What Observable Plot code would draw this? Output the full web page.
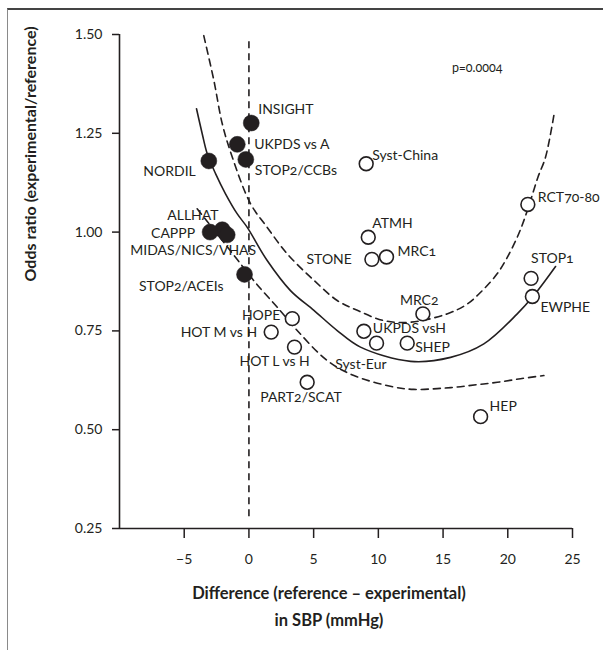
<!DOCTYPE html>
<html>
<head>
<meta charset="utf-8">
<script src="https://cdn.jsdelivr.net/npm/d3@7"></script>
<script src="https://cdn.jsdelivr.net/npm/@observablehq/plot@0.6"></script>
<style>
  html, body { margin: 0; padding: 0; background: #fff; overflow: hidden; width: 603px; height: 650px; }
  #frame { position: absolute; left: 7px; top: 8px; width: 620px; height: 660px;
           border-left: 1.5px solid #8a8a8a; border-top: 2.5px solid #444; box-sizing: border-box; }
  #chart { position: absolute; left: 0; top: 0; }
  #chart svg { font-family: Lato, "Open Sans", sans-serif; font-variant-numeric: oldstyle-nums; }
</style>
</head>
<body>
<div id="frame"></div>
<div id="chart"></div>
<script>
// ---------- data ----------
const filledNames = ["INSIGHT", "UKPDS vs A", "STOP2/CCBs", "NORDIL", "ALLHAT", "CAPPP", "MIDAS/NICS/VHAS", "STOP2/ACEIs"];
const filledDiff  = [0.18, -0.9, -0.24, -3.1, -2.06, -3.0, -1.68, -0.34];
const filledOR    = [1.276, 1.222, 1.184, 1.18, 1.006, 1.0, 0.993, 0.893];

const openNames = ["Syst-China", "RCT70-80", "ATMH", "STONE", "MRC1", "STOP1", "EWPHE", "MRC2",
                   "UKPDS vsH", "Syst-Eur", "SHEP", "HOPE", "HOT M vs H", "HOT L vs H", "PART2/SCAT", "HEP"];
const openDiff = [9.06, 21.55, 9.22, 9.5, 10.63, 21.8, 21.9, 13.44, 8.88, 9.86, 12.23, 3.35, 1.72, 3.52, 4.5, 17.9];
const openOR   = [1.173, 1.07, 0.987, 0.931, 0.937, 0.883, 0.837, 0.793, 0.749, 0.719, 0.719, 0.781, 0.747, 0.709, 0.62, 0.533];

// fitted curve (solid) and its confidence bands (dashed)
const fitX = [-4.05, -3.61, -3.22, -2.58, -1.81, -0.9, -0.13, 1.41, 3.21, 5.02, 6.82, 8.62, 12.49, 15.58, 18.15, 20.73, 22.02, 23.69];
const fitY = [1.312, 1.249, 1.198, 1.148, 1.097, 1.046, 1.012, 0.928, 0.852, 0.802, 0.751, 0.709, 0.673, 0.683, 0.717, 0.793, 0.840, 0.913];

const upperX = [-3.49, -2.71, -2.06, -1.29, 0.12, 1.41, 2.96, 5.02, 6.82, 8.37, 10.43, 12.5, 15.3, 16.87, 18.03, 19.19, 19.96, 20.73, 21.24, 21.76, 22.33, 22.92, 23.6];
const upperY = [1.497, 1.384, 1.274, 1.19, 1.072, 1.012, 0.945, 0.878, 0.827, 0.802, 0.776, 0.772, 0.793, 0.818, 0.852, 0.895, 0.936, 0.987, 1.029, 1.08, 1.139, 1.19, 1.303];

const lowerX = [-4.0, -1.27, 0.26, 1.03, 2.19, 3.73, 6.05, 8.11, 11.2, 12.74, 14.55, 16.1, 17.64, 19.19, 20.99, 22.79];
const lowerY = [1.059, 0.946, 0.882, 0.852, 0.81, 0.751, 0.675, 0.637, 0.608, 0.602, 0.604, 0.608, 0.614, 0.62, 0.629, 0.637];

const xTicks = [-5, 0, 5, 10, 15, 20, 25];
const yTicks = [0.25, 0.50, 0.75, 1.00, 1.25, 1.50];
const pValue = "p=0.0004";
const xTitle = "Difference (reference \u2013 experimental)\nin SBP (mmHg)";
const yTitle = "Odds ratio (experimental/reference)";

// ---------- label placement (styling): [dx, dy, anchor] ----------
const place = {
  "INSIGHT": [7, -14, "start"],
  "UKPDS vs A": [17, 0, "start"],
  "STOP2/CCBs": [9, 11, "start"],
  "NORDIL": [-13, 11, "end"],
  "ALLHAT": [-55, -14, "start"],
  "CAPPP": [-15, 1, "end"],
  "MIDAS/NICS/VHAS": [29, 16, "end"],
  "STOP2/ACEIs": [-21, 12, "end"],
  "Syst-China": [6, -8, "start"],
  "RCT70-80": [10, -7, "start"],
  "ATMH": [4, -14, "start"],
  "STONE": [-20, 0, "end"],
  "MRC1": [11, -5, "start"],
  "STOP1": [0, -20, "start"],
  "EWPHE": [8, 11, "start"],
  "MRC2": [-23, -13, "start"],
  "UKPDS vsH": [9, -3, "start"],
  "Syst-Eur": [10, 21, "end"],
  "SHEP": [8, 4, "start"],
  "HOPE": [-12, -3, "end"],
  "HOT M vs H": [-14, 0, "end"],
  "HOT L vs H": [-55, 14, "start"],
  "PART2/SCAT": [-47, 15, "start"],
  "HEP": [9, -10, "start"]
};

// ---------- tables ----------
const filled = filledNames.map((n, i) => ({name: n, x: filledDiff[i], y: filledOR[i]}));
const open = openNames.map((n, i) => ({name: n, x: openDiff[i], y: openOR[i]}));
const allPts = [...filled, ...open];
const fit = fitX.map((x, i) => ({x, y: fitY[i]}));
const upper = upperX.map((x, i) => ({x, y: upperY[i]}));
const lower = lowerX.map((x, i) => ({x, y: lowerY[i]}));

const ink = "#231f20";

// Plot's dx/dy are constants, so each label is its own text mark
const labels = allPts.map(d => Plot.text([d], {
  x: "x", y: "y", text: "name",
  dx: place[d.name][0], dy: place[d.name][1], textAnchor: place[d.name][2],
  fill: ink, fontSize: 14
}));

const chart = Plot.plot({
  width: 603,
  height: 650,
  marginLeft: 119,
  marginRight: 31,
  marginTop: 34,
  marginBottom: 122,
  x: {domain: [-10, 25]},
  y: {domain: [0.25, 1.5]},
  marks: [
    Plot.ruleY([0.25], {stroke: ink, strokeWidth: 1.6}),
    Plot.ruleX([-10], {stroke: ink, strokeWidth: 1.6}),
    Plot.axisX(xTicks, {tickSize: 10, tickPadding: 16, fontSize: 14, label: null, stroke: ink, strokeWidth: 1.5, color: ink}),
    Plot.axisY(yTicks, {tickSize: 7, tickPadding: 10, fontSize: 14, label: null, tickFormat: d3.format(".2f"), stroke: ink, strokeWidth: 1.5, color: ink}),
    Plot.ruleX([0], {y1: 0.28, y2: 1.49, stroke: ink, strokeWidth: 1.6, strokeDasharray: "7,5"}),
    Plot.line(upper, {x: "x", y: "y", curve: "catmull-rom", stroke: ink, strokeWidth: 1.6, strokeDasharray: "7,5"}),
    Plot.line(lower, {x: "x", y: "y", curve: "catmull-rom", stroke: ink, strokeWidth: 1.6, strokeDasharray: "7,5"}),
    Plot.line(fit, {x: "x", y: "y", curve: "catmull-rom", stroke: ink, strokeWidth: 1.6}),
    Plot.dot(open, {x: "x", y: "y", r: 6.9, fill: "white", stroke: ink, strokeWidth: 1.6}),
    Plot.dot(filled, {x: "x", y: "y", r: 8, fill: ink, stroke: ink, strokeWidth: 0.5}),
    ...labels,
    Plot.text([pValue], {text: d => d, frameAnchor: "top-right", dx: -70, dy: 29, textAnchor: "end", fill: ink, fontSize: 12.5}),
    Plot.text([xTitle], {text: d => d, frameAnchor: "bottom", dx: -17, dy: 75, lineAnchor: "middle", lineHeight: 1.64, fontSize: 16.5, fontWeight: "bold", fill: ink}),
    Plot.text([yTitle], {text: d => d, frameAnchor: "left", dx: -89, rotate: -90, fontSize: 16, fontWeight: "bold", fill: ink})
  ]
});
document.getElementById("chart").appendChild(chart);
</script>
</body>
</html>
